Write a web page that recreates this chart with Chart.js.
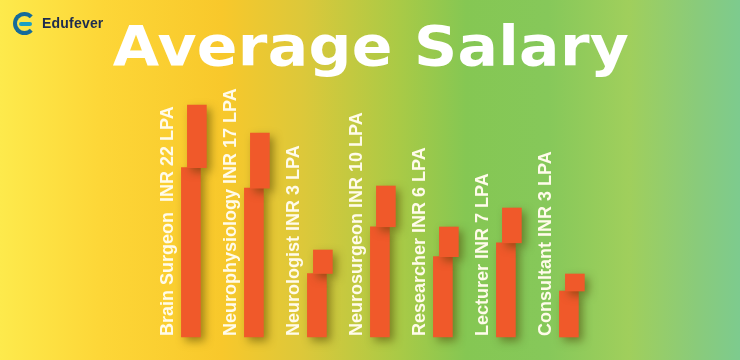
<!DOCTYPE html>
<html>
<head>
<meta charset="utf-8">
<script src="https://cdn.jsdelivr.net/npm/chart.js@4.4.1/dist/chart.umd.min.js"></script>
<style>
    html, body { margin: 0; padding: 0; }
    body {
        width: 740px;
        height: 360px;
        overflow: hidden;
        position: relative;
        background: linear-gradient(90deg, #fdea4c 0%, #fdd637 14%, #f8c82b 30%, #dcc83a 41%, #a9ca46 54%, #85c753 63%, #86c85a 74%, #a0cf5c 85%, #8acb7a 94%, #7dcb8e 100%);
    }
    #wrap { position: absolute; left: 0; top: 0; width: 740px; height: 360px; }
    .logo { position: absolute; left: 13px; top: 11px; height: 24px; display: flex; align-items: center; z-index: 2; }
    .logo-icon {
        width: 15px; height: 15px; border-radius: 50%;
        border: 4px solid #156b9a; border-right-color: transparent;
        position: relative; box-sizing: content-box;
    }
    .logo-icon::after {
        content: ''; position: absolute; left: 2px; top: 6px; width: 13px; height: 4px;
        background: #1b9fc4; border-radius: 2px;
    }
    .logo-text {
        margin-left: 6px; font: bold 14px "Liberation Sans", Arial, sans-serif;
        color: #1c2b4f; letter-spacing: 0.2px;
    }
    h1 {
        position: absolute; left: 0; top: 18px; width: 740px; margin: 0;
        text-align: center; color: #ffffff;
        font: bold 60px/60px "DejaVu Sans", Verdana, sans-serif;
        letter-spacing: 0.3px; z-index: 2;
        transform: scaleY(0.92); transform-origin: 50% 0;
        text-indent: 2px;
    }
</style>
</head>
<body>
<div class="logo"><div class="logo-icon"></div><span class="logo-text">Edufever</span></div>
<h1>Average Salary</h1>
<div id="wrap"><canvas id="salaryChart" width="740" height="360"></canvas></div>
<script>
// Roles and average salary (INR lakhs per annum), as printed on the bars
const roles = ['Brain Surgeon ', 'Neurophysiology', 'Neurologist', 'Neurosurgeon', 'Researcher', 'Lecturer', 'Consultant'];
const salaries = [22, 17, 3, 10, 6, 7, 3];
// Drawn bar lengths as they appear in the picture (not to salary scale)
const barHeights = [23.2, 20.4, 8.7, 15.1, 11.0, 12.9, 6.3];

const BAR_COLOR = '#f0592a';
const STEP = 0.73;      // where the bar "folds"
const SHIFT = 0.095;    // sideways offset of the upper piece

const lowerData = barHeights.map((h, i) => ({ x: i, y: [0, h * STEP] }));
const upperData = barHeights.map((h, i) => ({ x: i + SHIFT, y: [h * STEP, h] }));

// soft drop shadow under each bar piece
const shadowPlugin = {
    id: 'barShadow',
    beforeDatasetDraw(chart) {
        const ctx = chart.ctx;
        ctx.save();
        ctx.shadowColor = 'rgba(70, 60, 0, 0.5)';
        ctx.shadowBlur = 8;
        ctx.shadowOffsetX = 4;
        ctx.shadowOffsetY = 4;
    },
    afterDatasetDraw(chart) {
        chart.ctx.restore();
    }
};

// vertical labels beside each bar
const labelPlugin = {
    id: 'roleLabels',
    afterDatasetsDraw(chart) {
        const ctx = chart.ctx;
        const xs = chart.scales.x;
        const ys = chart.scales.y;
        ctx.save();
        ctx.fillStyle = '#fffbea';
        ctx.font = 'bold 18px "Liberation Sans", Arial, sans-serif';
        ctx.textAlign = 'left';
        ctx.textBaseline = 'middle';
        roles.forEach((role, i) => {
            const x = xs.getPixelForValue(i) - 23;
            const y = ys.getPixelForValue(0) - 1;
            ctx.save();
            ctx.translate(x, y);
            ctx.rotate(-Math.PI / 2);
            ctx.fillText(role + ' INR ' + salaries[i] + ' LPA', 0, 0);
            ctx.restore();
        });
        ctx.restore();
    }
};

new Chart(document.getElementById('salaryChart'), {
    type: 'bar',
    data: {
        datasets: [
            {
                label: 'upper',
                data: upperData,
                backgroundColor: BAR_COLOR,
                borderWidth: 0,
                barThickness: 19,
                grouped: false
            },
            {
                label: 'lower',
                data: lowerData,
                backgroundColor: BAR_COLOR,
                borderWidth: 0,
                barThickness: 19,
                grouped: false
            }
        ]
    },
    options: {
        responsive: false,
        animation: false,
        layout: { padding: 0 },
        plugins: {
            legend: { display: false },
            tooltip: { enabled: false },
            title: { display: false }
        },
        scales: {
            x: {
                type: 'linear',
                display: false,
                offset: false,
                min: -3.03,
                max: 8.716
            },
            y: {
                display: false,
                min: -2.3,
                max: 33.7
            }
        }
    },
    plugins: [shadowPlugin, labelPlugin]
});
</script>
</body>
</html>
